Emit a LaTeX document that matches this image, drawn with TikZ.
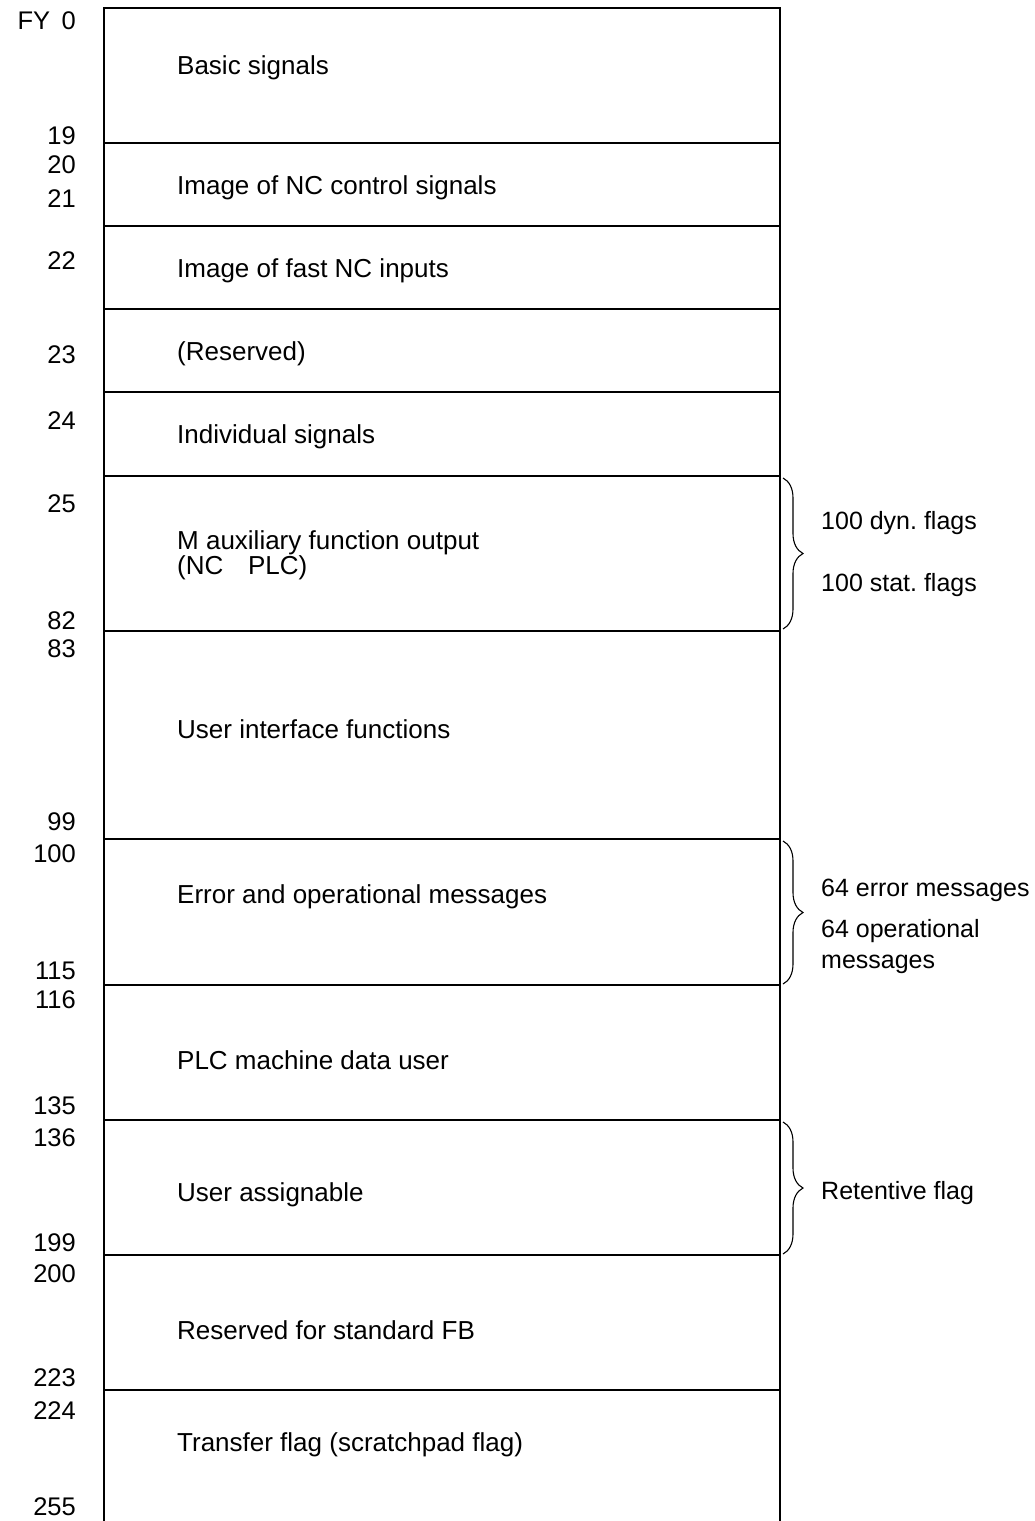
\documentclass[tikz,border=0pt]{standalone}
\usepackage{fontspec}
\setmainfont{Liberation Sans}
\usetikzlibrary{decorations.pathreplacing}
\frenchspacing
\begin{document}
\begin{tikzpicture}[x=1pt,y=-1pt,
  frame/.style={line width=1.4pt},
  sep/.style={line width=1.4pt},
  addr/.style={anchor=east,inner sep=0pt,font=\fontsize{25.5}{25.5}\selectfont},
  area/.style={anchor=west,inner sep=0pt,font=\fontsize{26}{26}\selectfont},
  note/.style={anchor=west,inner sep=0pt,align=left,font=\fontsize{25}{31}\selectfont},
  grp/.style={line width=1.1pt,decorate,decoration={brace,amplitude=20pt,aspect=0.5}}]
\useasboundingbox (0,0) rectangle (1034,1521);
% outer frame: open at the bottom
\draw[frame] (104,1521) -- (104,8) -- (780,8) -- (780,1521);
% band separators
\foreach \y in {143,226,309,392,476,631,839,985,1120,1255,1390}
  \draw[sep] (104,\y) -- (780,\y);
% flag byte addresses
\node[addr] (a0)   at (76,21)   {FY\hspace{0.45em}0};
\node[addr] (a19)  at (76,136)  {19};
\node[addr] (a20)  at (76,165)  {20};
\node[addr] (a21)  at (76,199)  {21};
\node[addr] (a22)  at (76,261)  {22};
\node[addr] (a23)  at (76,355)  {23};
\node[addr] (a24)  at (76,421)  {24};
\node[addr] (a25)  at (76,504)  {25};
\node[addr] (a82)  at (76,621)  {82};
\node[addr] (a83)  at (76,649)  {83};
\node[addr] (a99)  at (76,822)  {99};
\node[addr] (a100) at (76,854)  {100};
\node[addr] (a115) at (76,971)  {115};
\node[addr] (a116) at (76,1000) {116};
\node[addr] (a135) at (76,1106) {135};
\node[addr] (a136) at (76,1138) {136};
\node[addr] (a199) at (76,1243) {199};
\node[addr] (a200) at (76,1274) {200};
\node[addr] (a223) at (76,1378) {223};
\node[addr] (a224) at (76,1411) {224};
\node[addr] (a255) at (76,1507) {255};
% area contents
\node[area] (basic)  at (177,68)   {Basic signals};
\node[area] (ncctl)  at (177,188)  {Image of NC control signals};
\node[area] (fastin) at (177,271)  {Image of fast NC inputs};
\node[area] (resv)   at (177,354)  {(Reserved)};
\node[area] (indiv)  at (177,437)  {Individual signals};
\node[area,align=left,font=\fontsize{26}{21}\selectfont] (maux) at (177,555)
  {M auxiliary function output\\(NC\hspace{0.95em}PLC)};
\node[area] (uif)    at (177,729)  {User interface functions};
\node[area] (msg)    at (177,897)  {Error and operational messages};
\node[area] (plcmd)  at (177,1060) {PLC machine data user};
\node[area] (uassg)  at (177,1195) {User assignable};
\node[area] (stdfb)  at (177,1330) {Reserved for standard FB};
\node[area] (xfer)   at (177,1445) {Transfer flag (scratchpad flag)};
% grouping braces
\coordinate (b1t) at (783,478);  \coordinate (b1b) at (783,629);
\coordinate (b2t) at (783,841);  \coordinate (b2b) at (783,984);
\coordinate (b3t) at (783,1122); \coordinate (b3b) at (783,1254);
\draw[grp] (b1t) -- (b1b);
\draw[grp] (b2t) -- (b2b);
\draw[grp] (b3t) -- (b3b);
\node[note] (dyn)  at (821,523)  {100 dyn. flags};
\node[note] (stat) at (821,585)  {100 stat. flags};
\node[note] (err)  at (821,890)  {64 error messages};
\node[note] (oper) at (821,947)  {64 operational\\messages};
\node[note] (ret)  at (821,1193) {Retentive flag};
\end{tikzpicture}
\end{document}
